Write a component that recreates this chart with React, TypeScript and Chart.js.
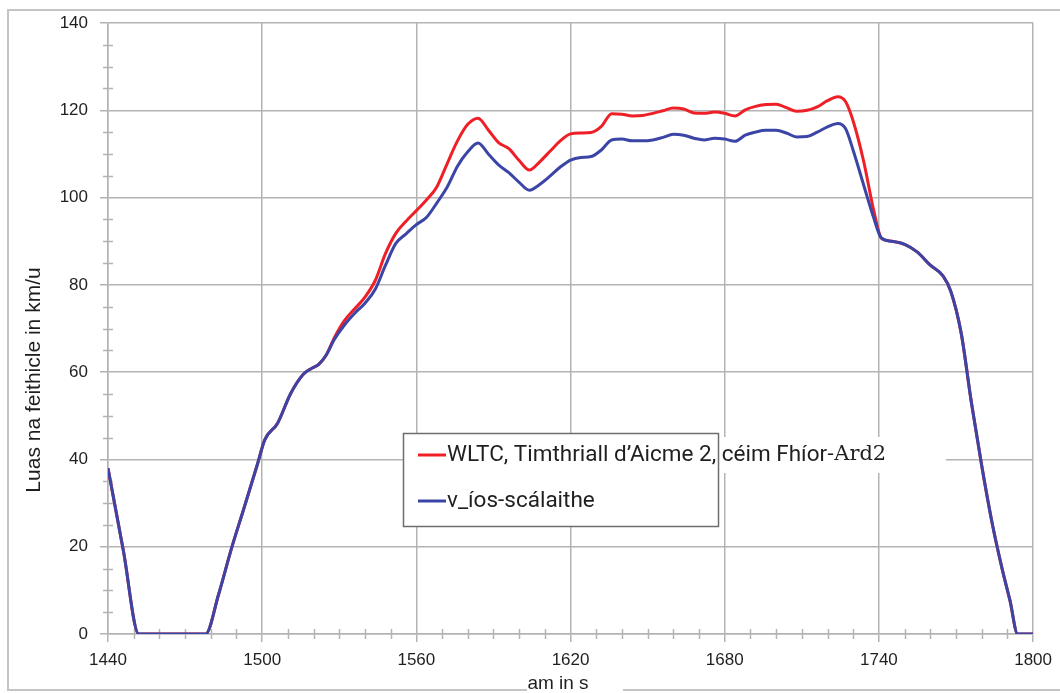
import React, { useEffect, useRef } from 'react';
import { Chart, registerables } from 'chart.js';

Chart.register(...registerables);

// ---- data ----
const TIME_S = [
  1440, 1446, 1452, 1478, 1483, 1488, 1493, 1498, 1501, 1506, 1511, 1516, 1519, 1522, 1525,
  1528, 1532, 1536, 1540, 1544, 1548, 1552, 1556, 1560, 1564, 1568, 1572, 1576, 1580, 1584,
  1588, 1592, 1596, 1600, 1604, 1608, 1612, 1616, 1620, 1624, 1628, 1632, 1636, 1640, 1644,
  1648, 1652, 1656, 1660, 1664, 1668, 1672, 1676, 1680, 1684, 1688, 1692, 1696, 1700, 1704,
  1708, 1712, 1716, 1720, 1724, 1727, 1730, 1734, 1738, 1741, 1745, 1750, 1755, 1760, 1765,
  1768, 1772, 1776, 1780, 1784, 1788, 1791, 1794, 1800,
];

const WLTC_KMH = [
  38, 19, 0, 0, 9, 19.5, 29, 38.6, 44.5, 48.3, 55, 59.5, 60.8, 61.8, 64,
  67.8, 71.8, 74.5, 77.2, 81, 87.2, 91.8, 94.6, 97, 99.5, 102.5, 107.8, 113, 116.8, 118.2,
  115.5, 112.6, 111.2, 108.5, 106.3, 108.2, 110.6, 113, 114.6, 114.8, 114.9, 116.3, 119.2, 119.1, 118.7,
  118.8, 119.3, 119.9, 120.5, 120.3, 119.4, 119.3, 119.6, 119.3, 118.7, 120.1, 120.9, 121.3, 121.4, 120.6,
  119.8, 120, 120.8, 122.2, 123.1, 122, 117.5, 108.5, 97, 90.7, 90, 89.3, 87.5, 84.5, 82,
  78.5, 69, 53, 38.6, 25.6, 14.8, 7.7, 0, 0,
];

const SCALED_KMH = [
  38, 19, 0, 0, 9, 19.5, 29, 38.6, 44.5, 48.3, 55, 59.5, 60.8, 61.8, 64,
  67.4, 70.8, 73.5, 75.8, 79, 84.5, 89.5, 91.7, 93.8, 95.5, 98.8, 102.4, 107.2, 110.5, 112.5,
  110, 107.5, 105.7, 103.5, 101.7, 103, 104.9, 107, 108.6, 109.2, 109.4, 110.9, 113.2, 113.4, 113,
  113, 113.2, 113.8, 114.5, 114.3, 113.6, 113.2, 113.6, 113.4, 112.9, 114.3, 115, 115.4, 115.4, 114.8,
  113.9, 114, 115, 116.2, 117, 115.8, 110.8, 103, 95.3, 90.7, 90, 89.3, 87.5, 84.5, 82,
  78.5, 69, 53, 38.6, 25.6, 14.8, 7.7, 0, 0,
];

const SERIES_LABELS = ['WLTC, Timthriall d’Aicme 2, céim Fhíor-Ard2', 'v_íos-scálaithe'];
const SERIES_COLORS = ['#ee1f26', '#3a45a6'];
const X_TICKS = [1440, 1500, 1560, 1620, 1680, 1740, 1800];
const Y_TICKS = [0, 20, 40, 60, 80, 100, 120, 140];
const X_MINOR_STEP = 10;
const Y_MINOR_STEP = 5;
const X_TITLE = 'am in s';
const Y_TITLE = 'Luas na feithicle in km/u';

const GRID = '#b3b3b3';
const FRAME = '#c4c4c4';
const TEXT = '#1f1f1f';

const decorPlugin = {
  id: 'decor',
  beforeDraw(chart: any) {
    const ctx = chart.ctx;
    ctx.save();
    ctx.strokeStyle = FRAME;
    ctx.lineWidth = 2;
    ctx.beginPath();
    ctx.moveTo(1062, 10);
    ctx.lineTo(8, 10);
    ctx.lineTo(8, 690);
    ctx.lineTo(1062, 690);
    ctx.stroke();
    ctx.restore();
  },
  beforeDatasetsDraw(chart: any) {
    const ctx = chart.ctx;
    const xs = chart.scales.x;
    const ys = chart.scales.y;
    const area = chart.chartArea;
    ctx.save();
    ctx.strokeStyle = GRID;
    ctx.lineWidth = 1.5;
    ctx.beginPath();
    for (let t = X_TICKS[0]; t <= X_TICKS[X_TICKS.length - 1]; t += X_MINOR_STEP) {
      if (X_TICKS.includes(t)) continue;
      const px = Math.round(xs.getPixelForValue(t)) + 0.5;
      ctx.moveTo(px, area.bottom - 5);
      ctx.lineTo(px, area.bottom + 5);
    }
    for (let v = Y_TICKS[0]; v <= Y_TICKS[Y_TICKS.length - 1]; v += Y_MINOR_STEP) {
      if (Y_TICKS.includes(v)) continue;
      const py = Math.round(ys.getPixelForValue(v)) + 0.5;
      ctx.moveTo(area.left - 5, py);
      ctx.lineTo(area.left + 5, py);
    }
    ctx.stroke();
    ctx.restore();
  },
  afterDraw(chart: any) {
    const ctx = chart.ctx;
    ctx.save();
    // axis titles
    ctx.fillStyle = TEXT;
    ctx.textAlign = 'center';
    ctx.textBaseline = 'middle';
    ctx.save();
    ctx.font = '21px "Liberation Sans", Arial, sans-serif';
    ctx.translate(34, 380);
    ctx.rotate(-Math.PI / 2);
    ctx.fillText(Y_TITLE, 0, 0);
    ctx.restore();
    ctx.fillStyle = '#ffffff';
    ctx.fillRect(527, 675, 96, 18);
    ctx.fillStyle = TEXT;
    ctx.font = '19px "Liberation Sans", Arial, sans-serif';
    ctx.fillText(X_TITLE, 558, 684);

    // legend
    const lx = 403, ly = 433, lw = 315, lh = 93;
    ctx.fillStyle = '#ffffff';
    ctx.fillRect(lx, 437, 946 - lx, 36);
    ctx.fillRect(lx, ly, lw, lh);
    ctx.strokeStyle = '#6e6e6e';
    ctx.lineWidth = 1.5;
    ctx.strokeRect(lx + 0.5, ly + 0.5, lw, lh);
    const rows = [455, 501];
    chart.data.datasets.forEach((ds: any, i: number) => {
      const y = rows[i];
      ctx.strokeStyle = ds.borderColor;
      ctx.lineWidth = 3;
      ctx.beginPath();
      ctx.moveTo(418, y);
      ctx.lineTo(446, y);
      ctx.stroke();
      ctx.fillStyle = TEXT;
      ctx.textAlign = 'left';
      ctx.textBaseline = 'middle';
      const label: string = ds.label;
      const cut = label.lastIndexOf('-Ard');
      const sans = '22.5px Roboto, "Liberation Sans", sans-serif';
      if (cut > 0) {
        const a = label.slice(0, cut);
        const b = label.slice(cut);
        ctx.font = sans;
        ctx.fillText(a, 447, y);
        const w = ctx.measureText(a).width;
        ctx.font = '21px "DejaVu Serif", "Liberation Serif", serif';
        ctx.fillText(b, 447 + w, y);
      } else {
        ctx.font = sans;
        ctx.fillText(label, 447, y);
      }
    });
    ctx.restore();
  },
};

export default function App() {
  const ref = useRef<HTMLCanvasElement | null>(null);
  useEffect(() => {
    if (!ref.current) return;
    const mk = (vals: number[]) => TIME_S.map((t, i) => ({ x: t, y: vals[i] }));
    const chart = new Chart(ref.current, {
      type: 'line',
      data: {
        datasets: [
          {
            label: SERIES_LABELS[0],
            data: mk(WLTC_KMH),
            borderColor: SERIES_COLORS[0],
            borderWidth: 3,
            pointRadius: 0,
            cubicInterpolationMode: 'monotone',
            fill: false,
            order: 2,
          },
          {
            label: SERIES_LABELS[1],
            data: mk(SCALED_KMH),
            borderColor: SERIES_COLORS[1],
            borderWidth: 3,
            pointRadius: 0,
            cubicInterpolationMode: 'monotone',
            fill: false,
            order: 1,
          },
        ],
      },
      options: {
        responsive: false,
        animation: false,
        layout: { padding: { left: 0, top: 23, right: 20, bottom: 0 } },
        plugins: { legend: { display: false }, tooltip: { enabled: false } },
        scales: {
          x: {
            type: 'linear',
            min: X_TICKS[0],
            max: X_TICKS[X_TICKS.length - 1],
            afterBuildTicks: (s: any) => { s.ticks = X_TICKS.map((v) => ({ value: v })); },
            afterFit: (s: any) => { s.height = 693 - 634; },
            grid: { color: GRID, lineWidth: 1.5, tickLength: 8, tickColor: GRID },
            border: { display: true, color: GRID, width: 1.5 },
            ticks: {
              color: TEXT,
              padding: 8,
              maxRotation: 0,
              autoSkip: false,
              callback: (v: any) => String(v),
              font: { family: '"Liberation Sans", Arial, sans-serif', size: 17 },
            },
          },
          y: {
            type: 'linear',
            min: Y_TICKS[0],
            max: Y_TICKS[Y_TICKS.length - 1],
            afterBuildTicks: (s: any) => { s.ticks = Y_TICKS.map((v) => ({ value: v })); },
            afterFit: (s: any) => { s.width = 108; },
            grid: { color: GRID, lineWidth: 1.5, tickLength: 8, tickColor: GRID },
            border: { display: true, color: GRID, width: 1.5 },
            ticks: {
              color: TEXT,
              padding: 12,
              autoSkip: false,
              callback: (v: any) => String(v),
              font: { family: '"Liberation Sans", Arial, sans-serif', size: 17 },
            },
          },
        },
      },
      plugins: [decorPlugin],
    } as any);
    return () => chart.destroy();
  }, []);
  return (
    <div style={{ position: 'absolute', left: 0, top: 0, width: 1060, height: 693, background: '#fff' }}>
      <canvas ref={ref} width={1060} height={693} style={{ display: 'block' }} />
    </div>
  );
}
